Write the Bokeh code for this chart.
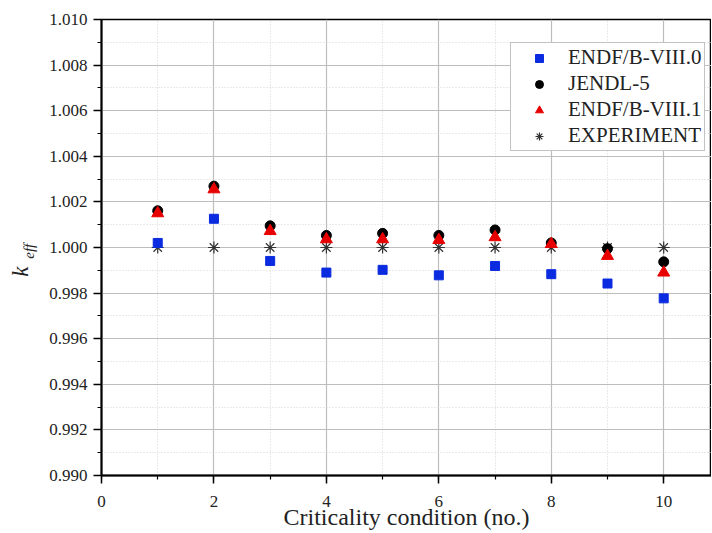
from bokeh.plotting import figure
from bokeh.models import (SingleIntervalTicker, NumeralTickFormatter, Legend, LegendItem,
                          ColumnDataSource, Range1d, LinearAxis, FixedTicker)
from bokeh.embed import file_html
from bokeh.resources import INLINE

conditions = [1, 2, 3, 4, 5, 6, 7, 8, 9, 10]
endf80 = [1.0002, 1.00126, 0.99941, 0.99890, 0.99902, 0.99878, 0.99919, 0.99883, 0.99842, 0.99777]
jendl5 = [1.00161, 1.00269, 1.00095, 1.00053, 1.00062, 1.00053, 1.00077, 1.00020, 0.99995, 0.99937]
endf81 = [1.00150, 1.00255, 1.00072, 1.00036, 1.00036, 1.00033, 1.00045, 1.00015, 0.99963, 0.99890]
experiment = [1.0, 1.0, 1.0, 1.0, 1.0, 1.0, 1.0, 1.0, 1.0, 1.0]

FONT = "Liberation Serif"

p = figure(width=711, height=532, output_backend="svg", toolbar_location=None,
           x_range=Range1d(0, 10.85), y_range=Range1d(0.990, 1.010),
           min_border_left=101, min_border_top=19, min_border_bottom=56, min_border_right=0)

p.outline_line_color = "black"
p.outline_line_width = 1.5
p.background_fill_color = "white"

p.xaxis.ticker = SingleIntervalTicker(interval=2, num_minor_ticks=2)
p.yaxis.ticker = SingleIntervalTicker(interval=0.002, num_minor_ticks=2)
p.yaxis.formatter = NumeralTickFormatter(format="0.000")

for ax in (p.xaxis[0], p.yaxis[0]):
    ax.axis_line_color = "black"
    ax.axis_line_width = 2
    ax.major_tick_out = 8
    ax.major_tick_in = 0
    ax.minor_tick_out = 4
    ax.minor_tick_in = 0
    ax.major_tick_line_color = "black"
    ax.major_tick_line_width = 1.5
    ax.minor_tick_line_color = "black"
    ax.minor_tick_line_width = 1.2
    ax.major_label_text_font = FONT
    ax.major_label_text_font_size = "17px"
    ax.major_label_text_color = "#222222"

p.xaxis.axis_label = "Criticality condition (no.)"
p.xaxis.axis_label_text_font = FONT
p.xaxis.axis_label_text_font_size = "24px"
p.xaxis.axis_label_text_font_style = "normal"
p.xaxis.axis_label_text_color = "#222222"
p.xaxis.axis_label_standoff = -6
p.xaxis.major_label_standoff = 12
p.yaxis.major_label_standoff = 6

# subscript "eff" as the inner axis label (padded so it sits slightly below centre)
p.yaxis.axis_label = "eff\u2002"
p.yaxis.axis_label_text_font = FONT
p.yaxis.axis_label_text_font_size = "15px"
p.yaxis.axis_label_text_font_style = "italic"
p.yaxis.axis_label_text_color = "#222222"
p.yaxis.axis_label_standoff = 9

# main letter "k" as the label of an empty outer axis
k_axis = LinearAxis(ticker=FixedTicker(ticks=[]), axis_line_color=None,
                    major_tick_line_color=None, minor_tick_line_color=None,
                    major_label_text_font_size="0px",
                    axis_label="k\u2003\u2002\u2009\u2009\u2009", axis_label_text_font=FONT,
                    axis_label_text_font_size="23px", axis_label_text_font_style="italic",
                    axis_label_text_color="#222222", axis_label_standoff=-14)
p.add_layout(k_axis, "left")

p.xgrid.grid_line_color = "#bdbdbd"
p.ygrid.grid_line_color = "#bdbdbd"
p.xgrid.grid_line_width = 1.2
p.ygrid.grid_line_width = 1.2
p.xgrid.minor_grid_line_color = "#d4d4d4"
p.ygrid.minor_grid_line_color = "#d4d4d4"
p.xgrid.minor_grid_line_dash = "1 2"
p.ygrid.minor_grid_line_dash = "1 2"

src = ColumnDataSource(dict(x=conditions, e80=endf80, j5=jendl5, e81=endf81, ex=experiment))

r_exp = p.scatter("x", "ex", source=src, marker="asterisk", size=12,
                  line_color="#333333", line_width=1.2)
r_e80 = p.scatter("x", "e80", source=src, marker="square", size=9,
                  fill_color="#0a2be0", line_color="#0a2be0")
r_j5 = p.scatter("x", "j5", source=src, marker="circle", size=10,
                 fill_color="black", line_color="black")
r_e81 = p.scatter("x", "e81", source=src, marker="triangle", size=12,
                  fill_color="#e80000", line_color="#e80000")

legend = Legend(items=[
    LegendItem(label="ENDF/B-VIII.0", renderers=[r_e80]),
    LegendItem(label="JENDL-5", renderers=[r_j5]),
    LegendItem(label="ENDF/B-VIII.1", renderers=[r_e81]),
    LegendItem(label="EXPERIMENT", renderers=[r_exp]),
], location=(409, 324))
legend.label_text_font = FONT
legend.label_text_font_size = "21px"
legend.label_text_color = "#222222"
legend.border_line_color = "#888888"
legend.border_line_width = 1
legend.background_fill_alpha = 1.0
legend.spacing = 1
legend.padding = 2
legend.margin = 0
legend.label_height = 20
legend.glyph_height = 20
legend.glyph_width = 52
legend.label_standoff = 3
p.add_layout(legend, "center")

open("out.html", "w").write(file_html(p, INLINE))
